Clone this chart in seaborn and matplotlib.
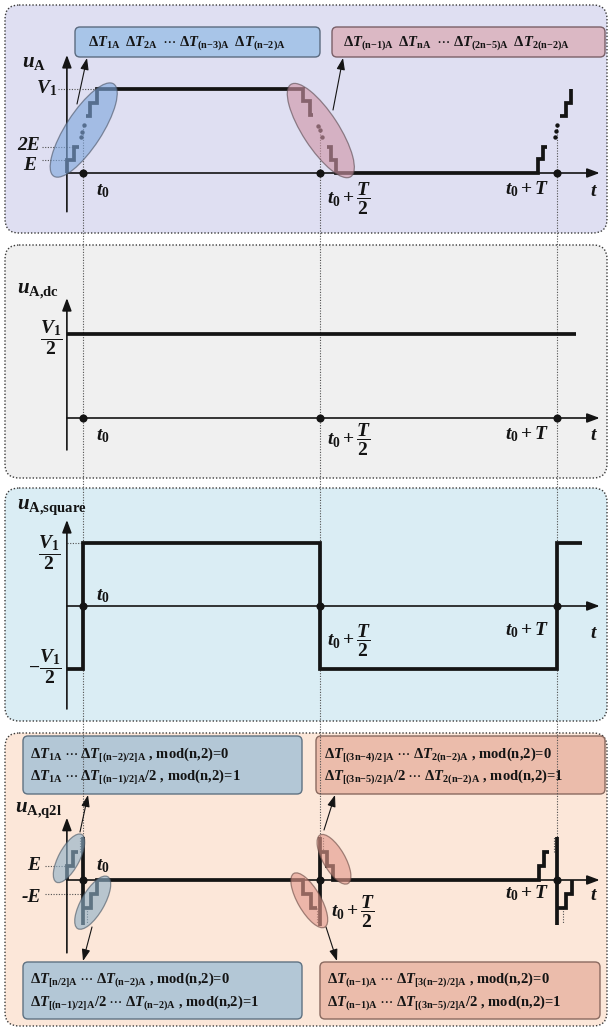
import matplotlib
matplotlib.use("Agg")
import matplotlib.pyplot as plt
import seaborn as sns
from matplotlib.patches import FancyBboxPatch, Ellipse
from matplotlib import transforms

sns.set_theme(style="white")
plt.rcParams.update({
    "font.family": ["Liberation Serif", "DejaVu Serif"],
    "mathtext.fontset": "custom",
    "mathtext.rm": "Liberation Serif:bold",
    "mathtext.it": "Liberation Serif:italic:bold",
    "mathtext.bf": "Liberation Serif:bold",
    "mathtext.sf": "Liberation Serif:bold",
})

# ---------------------------------------------------------------- data
# time is measured in periods T, with t0 = 0
marks_t = [0.0, 0.5, 1.0]

# u_A, levels in units of E (V1 = 6.5 E)
ua_seg1_t = [-0.034, -0.034, -0.019, -0.019, -0.008]
ua_seg1_v = [0, 1, 1, 2, 2]
ua_seg2_t = [0.006, 0.015, 0.015, 0.029, 0.029, 0.465, 0.465, 0.479, 0.479, 0.486]
ua_seg2_v = [4.4, 4.4, 5.45, 5.45, 6.5, 6.5, 5.55, 5.55, 4.5, 4.5]
ua_seg3_t = [0.514, 0.523, 0.523, 0.534, 0.534, 0.960, 0.960, 0.970, 0.970, 0.979]
ua_seg3_v = [2.05, 2.05, 1.0, 1.0, 0, 0, 1.05, 1.05, 2.0, 2.0]
ua_seg4_t = [1.007, 1.018, 1.018, 1.030, 1.030]
ua_seg4_v = [4.4, 4.4, 5.4, 5.4, 6.5]
ua_dots_t = [-0.005, -0.002, 0.002, 0.4965, 0.500, 0.5035, 0.995, 0.998, 1.0006]
ua_dots_v = [2.8, 3.2, 3.7, 3.65, 3.3, 2.8, 2.77, 3.26, 3.7]

# DC component, in units of V1
dc_t = [-0.034, 1.040]
dc_v = [0.5, 0.5]

# square-wave component, in units of V1
sq_t = [-0.034, 0, 0, 0.5, 0.5, 1.0, 1.0, 1.053]
sq_v = [-0.5, -0.5, 0.5, 0.5, -0.5, -0.5, 0.5, 0.5]

# quasi-two-level residual, levels in units of E
q_seg1_t = [-0.034, -0.034, -0.022, -0.022, -0.010]
q_seg1_v = [0, 1, 1, 2, 2]
q_seg2_t = [0.0, 0.016, 0.016, 0.029, 0.029, 0.465, 0.465, 0.480, 0.480, 0.494]
q_seg2_v = [-2, -2, -1, -1, 0, 0, -1, -1, -2, -2]
q_seg3_t = [0.5, 0.514, 0.514, 0.527, 0.527, 0.961, 0.961, 0.972, 0.972, 0.9825]
q_seg3_v = [2, 2, 1, 1, 0, 0, 1, 1, 2, 2]
q_seg4_t = [1.0, 1.019, 1.019, 1.032, 1.032]
q_seg4_v = [-2, -2, -1, -1, 0]
q_spike_top = [3.1, 3.1, 3.1]
q_spike_bot = [-3.2, -3.3, -3.2]
q_gap_t = [-0.006, 0.008, 0.494, 0.506, 0.993, 1.012]
q_gap_v0 = [2, -2, -2, 2, 2, -2]
q_gap_v1 = [3.1, -3.1, -3.1, 3.1, 3.1, -3.1]

# ---------------------------------------------------------------- layout
W, H = 612, 1029
T0_PX, T_PX = 83.0, 474.0
INK = "#141414"
GUIDE = "#505050"
DOT = (0, (1, 1.4))

fig = plt.figure(figsize=(W / 100, H / 100), dpi=100)
canvas = fig.add_axes([0, 0, 1, 1])
canvas.set_xlim(0, W)
canvas.set_ylim(H, 0)
canvas.axis("off")


def panel_axes(top, bottom, zero_px, px_per_unit):
    ax = fig.add_axes([0, 1 - bottom / H, 1, (bottom - top) / H])
    ax.set_xlim(-T0_PX / T_PX, (W - T0_PX) / T_PX)
    ax.set_ylim(-(bottom - zero_px) / px_per_unit, (zero_px - top) / px_per_unit)
    ax.axis("off")
    return ax


def panel_frame(top, bottom, color):
    canvas.add_patch(FancyBboxPatch((5, top), 602, bottom - top,
                                    boxstyle="round,pad=0,rounding_size=14",
                                    fc=color, ec="#3a3a3a", lw=1.0, ls=DOT, zorder=0))


def wave(ax, t, v, lw=2.7):
    sns.lineplot(x=t, y=v, ax=ax, sort=False, estimator=None, color=INK, lw=lw,
                 solid_capstyle="butt", solid_joinstyle="miter")


def axes_arrows(ax, v_lo, v_hi, t_end=1.09):
    style = dict(arrowstyle="-|>,head_length=0.75,head_width=0.28", lw=1.2,
                 color=INK, shrinkA=0, shrinkB=0, mutation_scale=10)
    ax.annotate("", xy=(t_end, 0), xytext=(-0.034, 0), arrowprops=style)
    ax.annotate("", xy=(-0.034, v_hi), xytext=(-0.034, v_lo), arrowprops=style)


def marks(ax):
    sns.scatterplot(x=marks_t, y=[0, 0, 0], ax=ax, s=34, color=INK, edgecolor=INK,
                    linewidth=0, zorder=5)


def to_px(ax, t, v):
    return canvas.transData.inverted().transform(ax.transData.transform((t, v)))


def halo(ax, t, v, major, minor, angle, fc, ec):
    cx, cy = to_px(ax, t, v)
    ax.add_patch(Ellipse((cx, cy), major, minor, angle=-angle, fc=fc, ec=ec, lw=0.9,
                         alpha=0.62, transform=canvas.transData, zorder=6))


def label(x, y, s, size=14, ha="left", va="center", **kw):
    canvas.text(x, y, s, fontsize=size, ha=ha, va=va, color=INK, zorder=8, **kw)


def note_box(x0, y0, x1, y1, fc, ec, lines, tx, ys, size=10.5):
    canvas.add_patch(FancyBboxPatch((x0, y0), x1 - x0, y1 - y0,
                                    boxstyle="round,pad=0,rounding_size=5",
                                    fc=fc, ec=ec, lw=1.0, zorder=1))
    for s, y in zip(lines, ys):
        canvas.text(tx, y, s, fontsize=size, ha="left", va="center", color=INK,
                    fontweight="bold", zorder=3)


def pointer(x0, y0, x1, y1):
    canvas.annotate("", xy=(x1, y1), xytext=(x0, y0), zorder=7,
                    arrowprops=dict(arrowstyle="-|>,head_length=0.7,head_width=0.25",
                                    lw=0.8, color=INK, shrinkA=0, shrinkB=0,
                                    mutation_scale=10))


# panel backgrounds
panel_frame(5, 233, "#dfdff2")
panel_frame(245, 478, "#f0f0f0")
panel_frame(488, 721, "#daedf4")
panel_frame(733, 1026, "#fce7d9")

ax1 = panel_axes(5, 233, 173, 12.9)
ax2 = panel_axes(245, 478, 418, 168.0)
ax3 = panel_axes(488, 721, 606, 125.4)
ax4 = panel_axes(733, 1026, 880, 14.0)

# vertical guides running through all panels
blend = transforms.blended_transform_factory(ax1.transData, canvas.transData)
for t in marks_t:
    canvas.plot([t, t], [126, 838], transform=blend, color=GUIDE, lw=0.8, ls=DOT, zorder=2)

# ---------------------------------------------------------------- panel 1: u_A
axes_arrows(ax1, -3.0, 9.15)
ax1.plot([-0.087, -0.034], [1, 1], color=GUIDE, lw=0.8, ls=DOT)
ax1.plot([-0.087, -0.019], [2, 2], color=GUIDE, lw=0.8, ls=DOT)
ax1.plot([-0.053, 0.029], [6.5, 6.5], color=GUIDE, lw=0.8, ls=DOT)
for t, v in [(ua_seg1_t, ua_seg1_v), (ua_seg2_t, ua_seg2_v),
             (ua_seg3_t, ua_seg3_v), (ua_seg4_t, ua_seg4_v)]:
    wave(ax1, t, v)
sns.scatterplot(x=ua_dots_t, y=ua_dots_v, ax=ax1, s=10, color=INK, linewidth=0)
marks(ax1)
halo(ax1, 0.0015, 3.33, 110, 36, 57, "#7fa7dc", "#4a5466")
halo(ax1, 0.5017, 3.29, 110, 36, -57, "#cf95a6", "#5a4a50")

note_box(75, 27, 320, 57, "#a8c5e8", "#5b6b80",
         [r"$\Delta T_{\mathrm{1A}}\;\;\Delta T_{\mathrm{2A}}\;\;\cdots\;\Delta T_{\mathrm{(n{-}3)A}}\;\;\Delta T_{\mathrm{(n{-}2)A}}$"],
         88, [43])
note_box(332, 27, 605, 57, "#dbb8c4", "#7a6068",
         [r"$\Delta T_{\mathrm{(n{-}1)A}}\;\;\Delta T_{\mathrm{nA}}\;\;\cdots\;\Delta T_{\mathrm{(2n{-}5)A}}\;\;\Delta T_{\mathrm{2(n{-}2)A}}$"],
         343, [43])
pointer(77, 104, 87, 58)
pointer(333, 110, 343, 58)

label(22, 62, r"$u_{\mathrm{A}}$", size=15)
label(57, 88, r"$V_1$", ha="right")
label(40, 146, "2E", ha="right", style="italic", fontweight="bold")
label(36, 166, "E", ha="right", style="italic", fontweight="bold")
label(96, 191, r"$t_0$")
label(327, 199, r"$t_0+\dfrac{T}{2}$")
label(549, 189, r"$t_0+T$", ha="right")
label(590, 191, r"$t$")

# ---------------------------------------------------------------- panel 2: u_A,dc
axes_arrows(ax2, -0.19, 0.714)
wave(ax2, dc_t, dc_v)
marks(ax2)
label(17, 291, r"$u_{\mathrm{A{,}dc}}$", size=15)
label(51, 338, r"$\dfrac{V_1}{2}$", ha="center")
label(96, 436, r"$t_0$")
label(327, 440, r"$t_0+\dfrac{T}{2}$")
label(549, 434, r"$t_0+T$", ha="right")
label(590, 436, r"$t$")

# ---------------------------------------------------------------- panel 3: u_A,square
axes_arrows(ax3, -0.821, 0.686)
ax3.plot([-0.034, 0], [0.5, 0.5], color=GUIDE, lw=0.8, ls=DOT)
wave(ax3, sq_t, sq_v)
marks(ax3)
label(17, 507, r"$u_{\mathrm{A{,}square}}$", size=15)
label(49, 553, r"$\dfrac{V_1}{2}$", ha="center")
label(61, 667, r"$-\dfrac{V_1}{2}$", ha="right")
label(96, 596, r"$t_0$")
label(327, 641, r"$t_0+\dfrac{T}{2}$")
label(549, 630, r"$t_0+T$", ha="right")
label(590, 634, r"$t$")

# ---------------------------------------------------------------- panel 4: u_A,q2l
axes_arrows(ax4, -5.2, 4.45)
ax4.plot([-0.080, -0.034], [1, 1], color=GUIDE, lw=0.8, ls=DOT)
ax4.plot([-0.080, 0.004], [-1, -1], color=GUIDE, lw=0.8, ls=DOT)
for t, v0, v1 in zip(q_gap_t, q_gap_v0, q_gap_v1):
    ax4.plot([t, t], [v0, v1], color=GUIDE, lw=0.8, ls=DOT)
for t, v in [(q_seg1_t, q_seg1_v), (q_seg2_t, q_seg2_v),
             (q_seg3_t, q_seg3_v), (q_seg4_t, q_seg4_v)]:
    wave(ax4, t, v)
for t, top, bot in zip(marks_t, q_spike_top, q_spike_bot):
    wave(ax4, [t, t], [top, bot])
marks(ax4)
halo(ax4, -0.0295, 1.55, 54, 21, 62, "#8eb0c8", "#4a5866")
halo(ax4, 0.0205, -1.62, 60, 23, 60, "#8eb0c8", "#4a5866")
halo(ax4, 0.5295, 1.48, 56, 22, -60, "#e3998c", "#6a4a44")
halo(ax4, 0.4774, -1.45, 62, 23, -60, "#e3998c", "#6a4a44")

note_box(23, 736, 302, 794, "#b3c7d6", "#5f7282",
         [r"$\Delta T_{\mathrm{1A}}\;\cdots\;\Delta T_{\mathrm{[(n{-}2)/2]A}}$ , mod(n,2)=0",
          r"$\Delta T_{\mathrm{1A}}\;\cdots\;\Delta T_{\mathrm{[(n{-}1)/2]A}}/2$ , mod(n,2)=1"],
         30, [755, 777])
note_box(316, 736, 605, 794, "#ebbcab", "#8a6a60",
         [r"$\Delta T_{\mathrm{[(3n{-}4)/2]A}}\;\cdots\;\Delta T_{\mathrm{2(n{-}2)A}}$ , mod(n,2)=0",
          r"$\Delta T_{\mathrm{[(3n{-}5)/2]A}}/2\;\cdots\;\Delta T_{\mathrm{2(n{-}2)A}}$ , mod(n,2)=1"],
         324, [755, 777])
note_box(23, 962, 302, 1019, "#b3c7d6", "#5f7282",
         [r"$\Delta T_{\mathrm{[n/2]A}}\;\cdots\;\Delta T_{\mathrm{(n{-}2)A}}$ , mod(n,2)=0",
          r"$\Delta T_{\mathrm{[(n{-}1)/2]A}}/2\;\cdots\;\Delta T_{\mathrm{(n{-}2)A}}$ , mod(n,2)=1"],
         30, [980, 1003])
note_box(320, 962, 600, 1019, "#ebbcab", "#8a6a60",
         [r"$\Delta T_{\mathrm{(n{-}1)A}}\;\cdots\;\Delta T_{\mathrm{[3(n{-}2)/2]A}}$ , mod(n,2)=0",
          r"$\Delta T_{\mathrm{(n{-}1)A}}\;\cdots\;\Delta T_{\mathrm{[(3n{-}5)/2]A}}/2$ , mod(n,2)=1"],
         327, [980, 1003])
pointer(80, 832, 88, 795)
pointer(92, 927, 83, 961)
pointer(324, 830, 335, 795)
pointer(326, 927, 337, 961)

label(15, 810, r"$u_{\mathrm{A{,}q2l}}$", size=15)
label(40, 866, "E", ha="right", style="italic", fontweight="bold")
label(41, 898, "-E", ha="right", style="italic", fontweight="bold")
label(96, 866, r"$t_0$")
label(331, 912, r"$t_0+\dfrac{T}{2}$")
label(549, 893, r"$t_0+T$", ha="right")
label(590, 896, r"$t$")

fig.savefig("out.png", dpi=100)
